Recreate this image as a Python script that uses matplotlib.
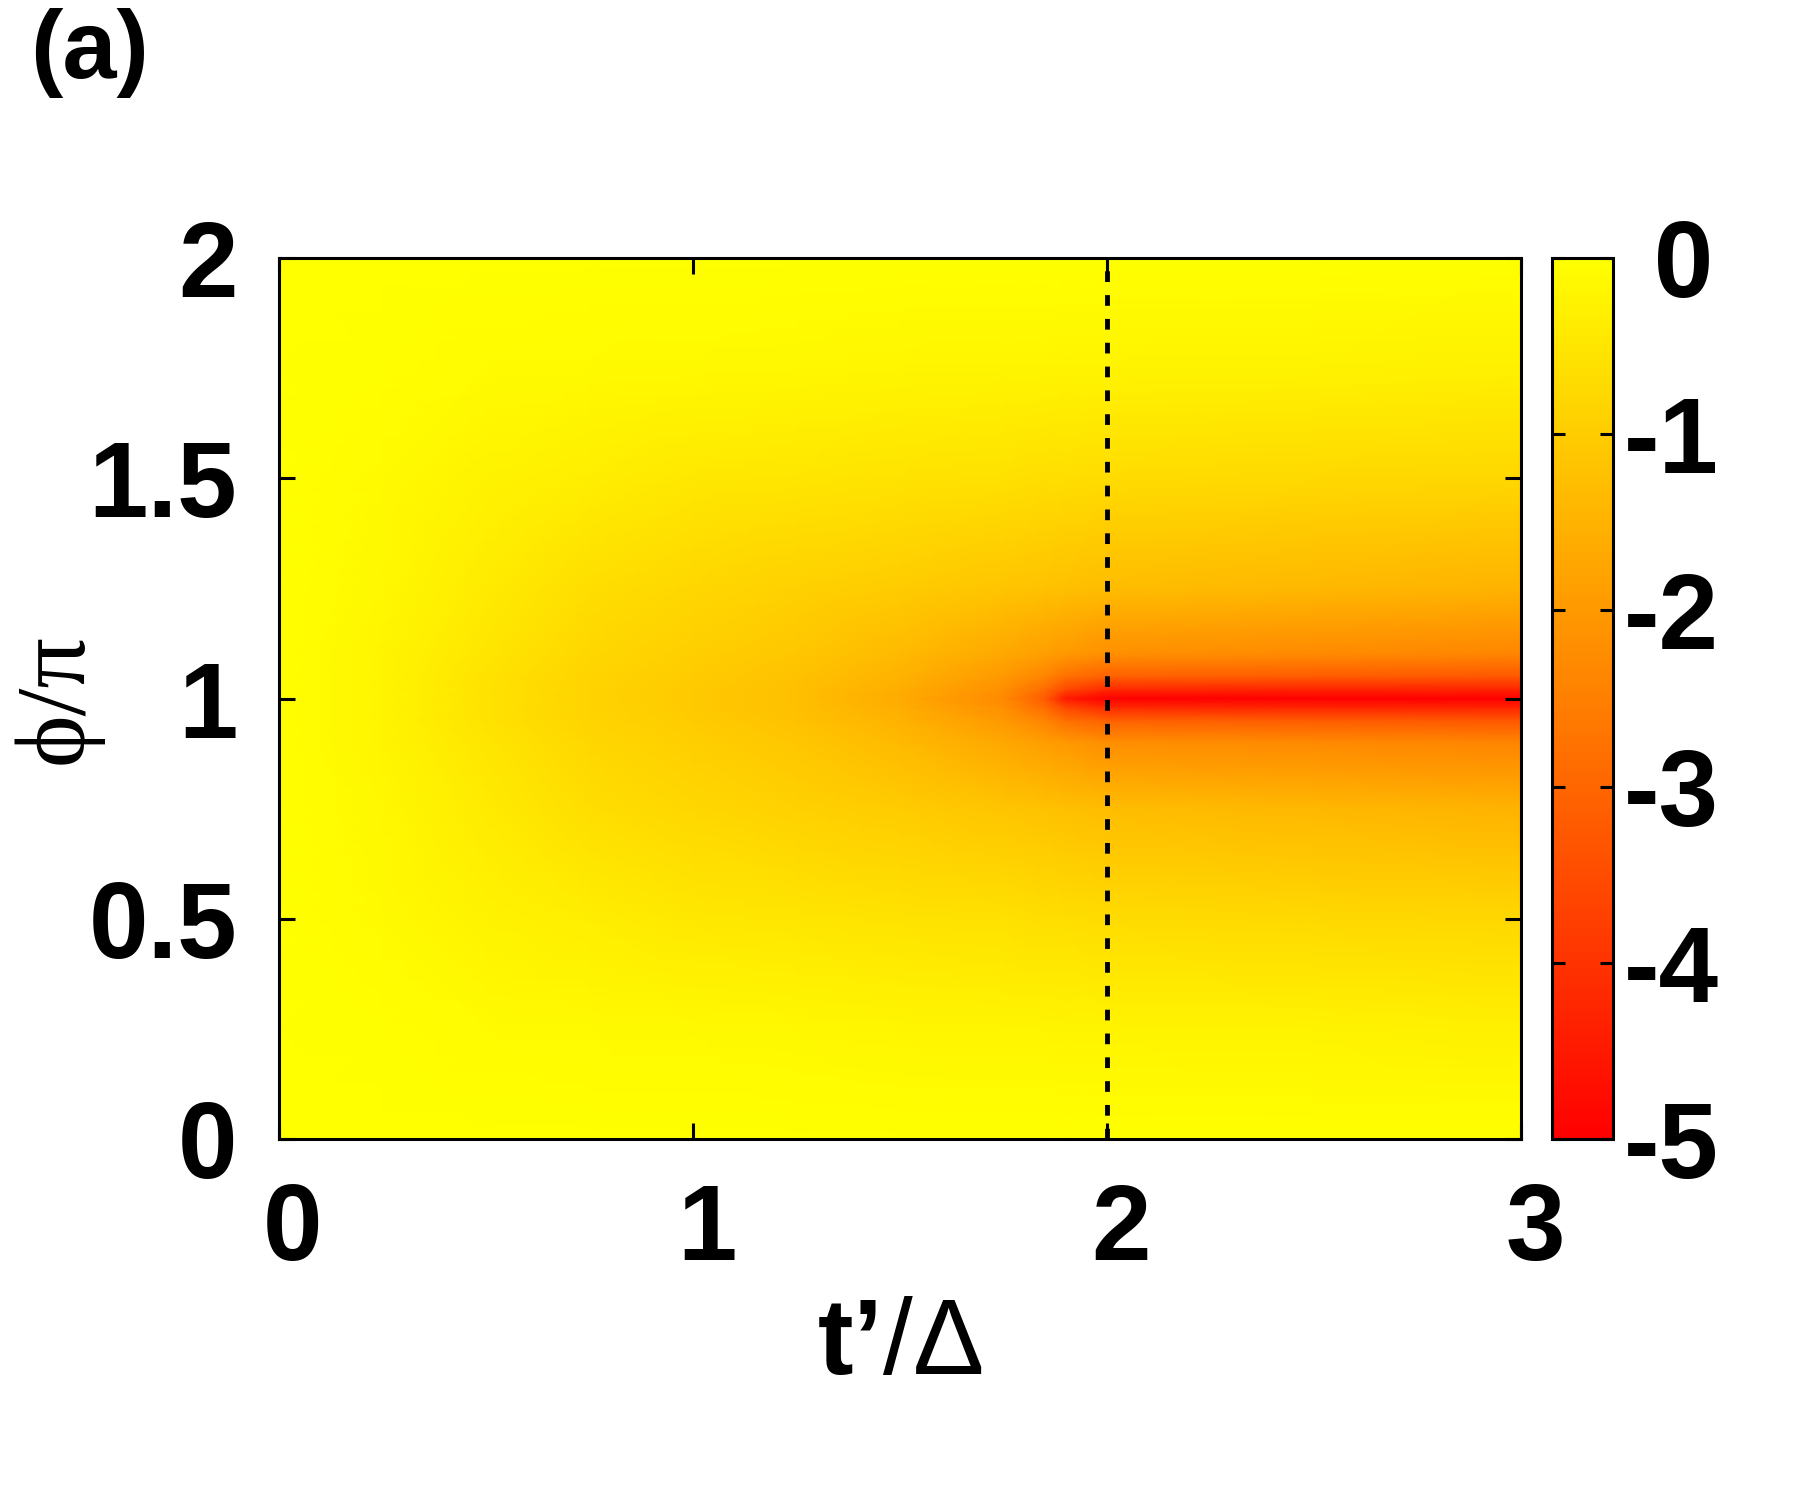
import numpy as np
import matplotlib
matplotlib.use("Agg")
import matplotlib.pyplot as plt
import matplotlib.transforms as mtransforms
from matplotlib.colors import LinearSegmentedColormap

# sample grid (t'/Delta across, phi/pi down)
t_vals = [0.0, 0.25, 0.5, 0.75, 1.0, 1.25, 1.5, 1.75, 1.85, 1.9, 2.0, 2.5, 3.0]
phi_vals = [0.0, 0.25, 0.5, 0.75, 0.9, 0.95, 0.98, 1.0, 1.02, 1.05, 1.1, 1.25, 1.5, 1.75, 2.0]

z_vals = [
    [0, 0, 0, 0, 0, 0, 0, 0, 0, 0, 0, 0, 0],
    [0, -0.03, -0.08, -0.10, -0.12, -0.15, -0.18, -0.20, -0.20, -0.22, -0.22, -0.25, -0.30],
    [0, -0.10, -0.25, -0.35, -0.45, -0.50, -0.55, -0.60, -0.65, -0.65, -0.70, -0.75, -0.80],
    [0, -0.15, -0.40, -0.65, -0.80, -0.90, -1.00, -1.15, -1.20, -1.25, -1.30, -1.40, -1.50],
    [0, -0.20, -0.50, -0.80, -0.95, -1.10, -1.35, -1.70, -1.90, -2.00, -2.20, -2.30, -2.40],
    [0, -0.20, -0.55, -0.85, -1.00, -1.20, -1.50, -2.00, -2.40, -2.80, -3.10, -3.20, -3.30],
    [0, -0.20, -0.55, -0.85, -1.05, -1.25, -1.60, -2.20, -2.90, -3.60, -4.20, -4.30, -4.30],
    [0, -0.20, -0.55, -0.85, -1.05, -1.25, -1.65, -2.30, -3.20, -4.50, -5.00, -5.00, -5.00],
    [0, -0.20, -0.55, -0.85, -1.05, -1.25, -1.60, -2.20, -2.90, -3.60, -4.20, -4.30, -4.30],
    [0, -0.20, -0.55, -0.85, -1.00, -1.20, -1.50, -2.00, -2.40, -2.80, -3.10, -3.20, -3.30],
    [0, -0.20, -0.50, -0.80, -0.95, -1.10, -1.35, -1.70, -1.90, -2.00, -2.20, -2.30, -2.40],
    [0, -0.15, -0.40, -0.65, -0.80, -0.90, -1.00, -1.15, -1.20, -1.25, -1.30, -1.40, -1.50],
    [0, -0.10, -0.25, -0.35, -0.45, -0.50, -0.55, -0.60, -0.65, -0.65, -0.70, -0.75, -0.80],
    [0, -0.03, -0.08, -0.10, -0.12, -0.15, -0.18, -0.20, -0.20, -0.22, -0.22, -0.25, -0.30],
    [0, 0, 0, 0, 0, 0, 0, 0, 0, 0, 0, 0, 0],
]

x_ticks = [0, 1, 2, 3]
y_ticks = [0, 0.5, 1, 1.5, 2]
y_tick_labels = ["0", "0.5", "1", "1.5", "2"]
cb_ticks = [-5, -4, -3, -2, -1, 0]
cb_tick_labels = ["-5", "-4", "-3", "-2", "-1", " 0"]
marker_t = 2.0

plt.rcParams["font.family"] = ["Liberation Sans", "DejaVu Sans"]
plt.rcParams["font.weight"] = "bold"
plt.rcParams["axes.unicode_minus"] = False
plt.rcParams["mathtext.fontset"] = "custom"
plt.rcParams["mathtext.rm"] = "Liberation Sans:weight=normal"
plt.rcParams["mathtext.bf"] = "Liberation Sans:weight=bold"

FS = 77
cmap = LinearSegmentedColormap.from_list("red_yellow", ["#ff0000", "#ffff00"])

fig = plt.figure(figsize=(18, 15), dpi=100)
ax = fig.add_axes([279 / 1800, 1 - 1139 / 1500, 1242 / 1800, 881 / 1500])
cax = fig.add_axes([1552 / 1800, 1 - 1139 / 1500, 61 / 1800, 881 / 1500])

T, P = np.meshgrid(t_vals, phi_vals)
mesh = ax.pcolormesh(T, P, np.array(z_vals), cmap=cmap, vmin=-5, vmax=0,
                     shading="gouraud", rasterized=True)
ax.axvline(marker_t, color="black", lw=3.5, linestyle=(0, (2.2, 2.7)))

ax.set_xlim(0, 3)
ax.set_ylim(0, 2)
ax.set_xticks(x_ticks)
ax.set_xticklabels([str(v) for v in x_ticks])
ax.set_yticks(y_ticks)
ax.set_yticklabels(y_tick_labels)
ax.tick_params(axis="both", direction="in", length=11.5, width=2.2,
               top=True, right=True, labelsize=FS)
ax.tick_params(axis="x", pad=31)
ax.tick_params(axis="y", pad=30)
for sp in ax.spines.values():
    sp.set_linewidth(2.2)

# gnuplot puts the x tick numbers a little right of the tick
shift = mtransforms.ScaledTranslation(10 / 72, 0, fig.dpi_scale_trans)
for lab in ax.get_xticklabels():
    lab.set_transform(lab.get_transform() + shift)

ax.set_xlabel(r"$\mathbf{t’}\mathrm{/\Delta}$", fontsize=FS, labelpad=10)
ax.set_ylabel("ϕ/π", fontsize=72, fontweight="normal",
              family=["Liberation Serif", "DejaVu Serif"])
ax.yaxis.set_label_coords(-0.142, 0.5)

cb = fig.colorbar(mesh, cax=cax, ticks=cb_ticks)
cb.ax.set_yticklabels(cb_tick_labels)
cb.ax.yaxis.set_ticks_position("both")
cb.ax.tick_params(direction="in", length=9.4, width=2.2, labelsize=FS,
                  pad=8, left=True, right=True, labelleft=False, labelright=True)
cb.outline.set_linewidth(2.2)

fig.text(0.017, 1 - 78 / 1500, "(a)", fontsize=70, fontweight="bold", va="baseline")

fig.savefig("out.png", dpi=100, facecolor="white")
